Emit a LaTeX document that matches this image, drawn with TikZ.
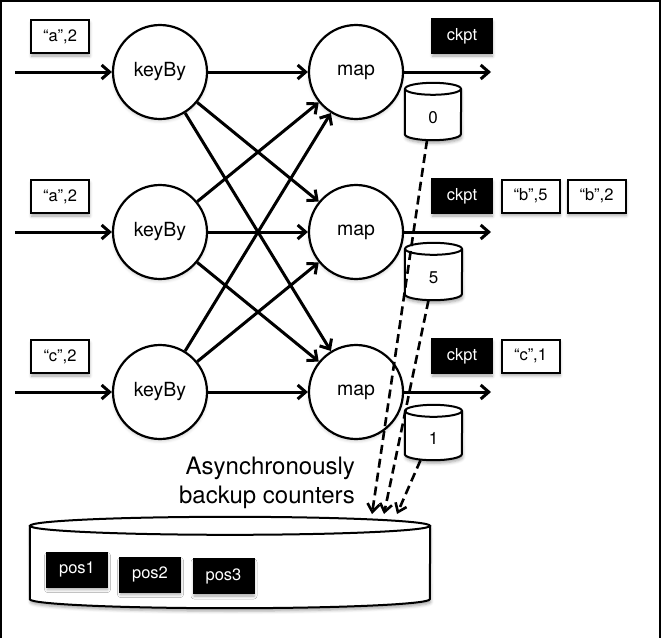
\documentclass[tikz,border=0pt]{standalone}
\usepackage{fontspec}
\setmainfont{TeX Gyre Heros}
\usetikzlibrary{arrows.meta,calc,shadows.blur}

% cylinder drawn around a named placeholder node: name, centre, width, height, y radius of the lid, label
\newcommand\drum[6]{%
  \node[minimum width=#3pt,minimum height=#4pt,inner sep=0pt] (#1) at (#2) {};
  \path[fill=white,softshadow]
    ($(#1.north west)+(0,-#5)$) arc[start angle=180,end angle=0,x radius=#3/2,y radius=#5]
    -- ($(#1.south east)+(0,#5)$) arc[start angle=0,end angle=-180,x radius=#3/2,y radius=#5] -- cycle;
  \draw[outline]
    ($(#1.north west)+(0,-#5)$) -- ($(#1.south west)+(0,#5)$)
    arc[start angle=180,end angle=360,x radius=#3/2,y radius=#5]
    -- ($(#1.north east)+(0,-#5)$);
  \draw[outline] ($(#1.north)+(0,-#5)$) ellipse[x radius=#3/2,y radius=#5];
  \node[font=\fontsize{17}{20}\selectfont,inner sep=0pt] (#1-t) at ($(#1.center)+(0,-#5)$) {#6};
}

\begin{document}
\begin{tikzpicture}[x=1pt,y=1pt,
  softshadow/.style={blur shadow={shadow xshift=0.5pt,shadow yshift=-3pt,shadow blur radius=3pt,shadow opacity=35}},
  outline/.style={line width=2pt},
  flow/.style={line width=3pt,-{Straight Barb[length=8pt,width=14pt]}},
  sync/.style={line width=2.6pt,dash pattern=on 9pt off 5pt,-{Straight Barb[length=8pt,width=12pt]}},
  op/.style={circle,draw,line width=2.2pt,fill=white,minimum size=94pt,inner sep=0pt,
    font=\fontsize{19.5}{22}\selectfont,
    blur shadow={shadow xshift=0pt,shadow yshift=-2pt,shadow blur radius=3pt,shadow opacity=20}},
  rec/.style={draw,line width=2pt,fill=white,minimum width=58pt,minimum height=33pt,inner sep=0pt,
    font=\fontsize{16.5}{19}\selectfont,softshadow},
  blackbox/.style={rec,fill=black,text=white,minimum width=60pt,minimum height=34pt},
]
\useasboundingbox (0,0) rectangle (661,-638);
\draw[line width=2pt] (1,-638) -- (1,-1) -- (660,-1) -- (660,-638);

% operators in three parallel lanes
\foreach \r/\y in {1/72,2/232,3/392} {
  \node[op] (k\r) at (160,-\y) {keyBy};
  \node[op] (m\r) at (356,-\y) {map};
  \coordinate (src\r) at (15,-\y);
  \coordinate (out\r) at (491,-\y);
}

% inputs, outputs and the all-to-all shuffle
\foreach \r in {1,2,3} {
  \draw[flow] (src\r) -- (k\r);
  \draw[flow] (m\r) -- (out\r);
  \foreach \s in {1,2,3} {
    \draw[flow] (k\r) -- (m\s);
  }
}

% records in flight
\node[rec] (in1) at (60,-36.5) {“a”,2};
\node[rec] (in2) at (60,-196.5) {“a”,2};
\node[rec] (in3) at (60,-356.5) {“c”,2};
\node[blackbox] (ck1) at (462,-36) {ckpt};
\node[blackbox] (ck2) at (462,-196) {ckpt};
\node[blackbox] (ck3) at (462,-356) {ckpt};
\node[rec] (b5) at (530.5,-196) {“b”,5};
\node[rec] (b2) at (596.5,-196) {“b”,2};
\node[rec] (c1) at (530.5,-356) {“c”,1};

% per-operator counters
\drum{s0}{433,-111.5}{56}{57}{6}{0}
\drum{s5}{433.5,-271.5}{57}{57}{6}{5}
\drum{s1}{433.5,-432.5}{57}{55}{6}{1}

% backup store
\drum{store}{230,-562.5}{400}{91}{9}{}
\node[blackbox] (p1) at (77,-569.5) {pos1};
\node[blackbox] (p2) at (150,-574.5) {pos2};
\node[blackbox] (p3) at (223.5,-576) {pos3};

\node[anchor=east,align=right,inner sep=0pt,font=\fontsize{24}{29}\selectfont] (note)
  at (355,-483) {Asynchronously\\backup counters};

% asynchronous backups
\coordinate (d1) at (372,-514);
\coordinate (d2) at (384,-514);
\coordinate (d3) at (397,-514);
\draw[sync] ([xshift=-6pt]s0.south) -- (d1);
\draw[sync] ([xshift=-5pt]s5.south) -- (d2);
\draw[sync] ([xshift=-13pt]s1.south) -- (d3);
\end{tikzpicture}
\end{document}
